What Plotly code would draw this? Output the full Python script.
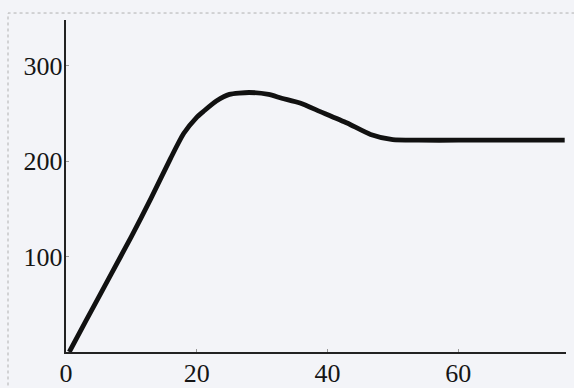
import plotly.graph_objects as go

x_vals = [0.5, 3, 6.7, 10, 13, 16, 18, 20, 21, 23, 25, 28, 31, 33, 35.8, 38.9, 43, 46.6, 50, 54, 60, 70, 76.3]
y_vals = [0, 32, 79, 121, 161, 203, 229, 246, 252, 263, 270, 272, 270, 266, 261, 252, 240, 228, 222.5, 222, 222, 222, 222]

x_ticks = [0, 20, 40, 60]
y_ticks = [100, 200, 300]

bg = "#f3f4f8"
fig = go.Figure()
fig.add_trace(go.Scatter(x=x_vals, y=y_vals, mode="lines",
                         line=dict(color="#111111", width=4.8, shape="spline", smoothing=0.6),
                         hoverinfo="skip"))

font = dict(family="Liberation Serif, Times New Roman, serif", size=26, color="#151515")
fig.update_layout(
    width=574, height=388,
    margin=dict(l=66, r=8, t=20, b=36),
    paper_bgcolor=bg, plot_bgcolor=bg,
    showlegend=False,
    xaxis=dict(range=[0, 76.5], tickvals=x_ticks, ticktext=[str(v) for v in x_ticks],
               showgrid=False, zeroline=False, showline=True, linecolor="#222", linewidth=1.6,
               ticks="inside", ticklen=3, tickcolor="#999", tickfont=font, ticklabelstandoff=-3,
               automargin=False),
    yaxis=dict(range=[0, 348], tickvals=y_ticks, ticktext=[str(v) for v in y_ticks],
               showgrid=False, zeroline=False, showline=True, linecolor="#222", linewidth=2.4,
               ticks="inside", ticklen=3, tickcolor="#999", tickfont=font, ticklabelstandoff=-4,
               automargin=False),
    shapes=[dict(type="rect", xref="paper", yref="paper",
                 x0=-0.116, x1=1.2, y0=-0.3, y1=1.021,
                 line=dict(color="#b0b0b0", width=1, dash="dot"))],
)
fig.write_html("out.html")
